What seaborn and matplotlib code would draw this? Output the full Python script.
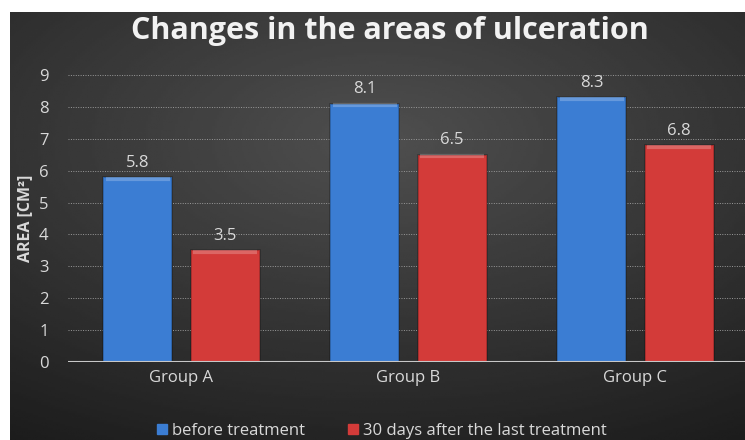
import numpy as np
import pandas as pd
import matplotlib.pyplot as plt
import seaborn as sns

# data
groups = ['Group A', 'Group B', 'Group C']
before = [5.8, 8.1, 8.3]
after = [3.5, 6.5, 6.8]
series = ['before treatment', '30 days after the last treatment']

df = pd.DataFrame({
    'group': groups * 2,
    'series': [series[0]] * 3 + [series[1]] * 3,
    'area': before + after,
})

sns.set_theme(style='dark')
plt.rcParams['font.family'] = ['Open Sans', 'DejaVu Sans']
txt = '#d9d9d9'

fig = plt.figure(figsize=(7.45, 4.4), dpi=100)
fig.patch.set_facecolor('white')

# radial gradient background (dark grey, lighter centre)
bg = fig.add_axes([10 / 745, 0, 735 / 745, 428 / 440])
yy, xx = np.mgrid[-0.6:1.4:200j, -1:1:300j]
r = np.sqrt(xx ** 2 * 0.8 + yy ** 2)
bg.imshow(0.31 - 0.12 * r, cmap='gray', vmin=0, vmax=1, aspect='auto',
          extent=[0, 1, 0, 1])
bg.set_axis_off()

ax = fig.add_axes([68 / 745, 78 / 440, 681 / 745, 287 / 440])
ax.patch.set_alpha(0)

pal = {series[0]: '#3b7dd3', series[1]: '#d33b39'}
edge = {series[0]: '#2c62ab', series[1]: '#a82c2a'}
sns.barplot(data=df, x='group', y='area', hue='series', palette=pal,
            width=0.77, gap=0.21, saturation=1, ax=ax, legend=False,
            edgecolor='none')

for p in ax.patches:
    h = p.get_height()
    if h <= 0:
        continue
    x0, w = p.get_x(), p.get_width()
    # bevel: darker outline and a light band at the top
    p.set_edgecolor('#00000040')
    p.set_linewidth(1.2)
    ax.plot([x0 + 0.012, x0 + w - 0.012], [h - 0.05, h - 0.05],
            color='white', alpha=0.22, lw=3, solid_capstyle='butt')
    ax.text(x0 + w / 2, h + 0.2, f'{h:.1f}', ha='center', va='bottom',
            color=txt, fontsize=12)

ax.set_ylim(0, 9)
ax.set_xlim(-0.5, 2.5)
ax.set_yticks(range(10))
ax.yaxis.grid(True, color='#9a9a9a', ls=(0, (1, 1.5)), lw=0.7)
ax.set_axisbelow(True)
ax.axhline(0, color='#c8c8c8', lw=1.5)
for s in ax.spines.values():
    s.set_visible(False)
ax.tick_params(colors=txt, labelsize=12, length=0, pad=14)
ax.tick_params(axis='x', pad=6)
ax.set_xlabel('')
ax.set_ylabel('AREA [CM²]', color=txt, fontsize=11.5, fontweight='bold',
              labelpad=4)

fig.text(390 / 745, 1 - 31 / 440, 'Changes in the areas of ulceration',
         ha='center', va='center', color='#f2f2f2', fontsize=22,
         fontweight='bold')

handles = [plt.Rectangle((0, 0), 1, 1, color=pal[s]) for s in series]
fig.legend(handles, series, loc='center', bbox_to_anchor=(382 / 745, 1 - 431 / 440),
           ncol=2, frameon=False, labelcolor=txt, fontsize=12,
           handlelength=0.6, handleheight=0.6, handletextpad=0.3,
           columnspacing=2.6)

fig.savefig('out.png', dpi=100)
